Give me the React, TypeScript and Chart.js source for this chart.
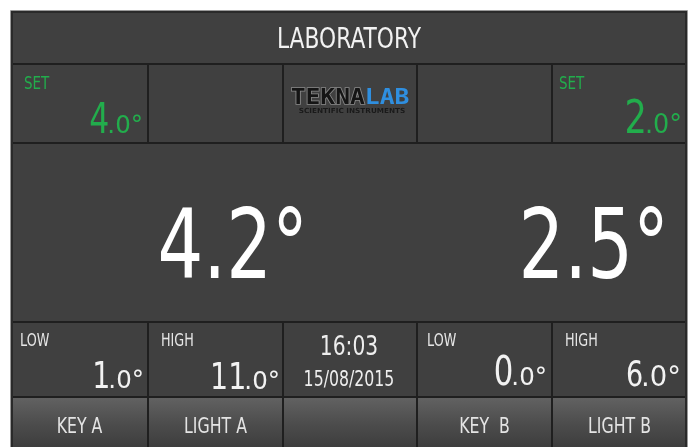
import React, { useEffect, useRef } from "react";
import { Chart, registerables } from "chart.js";

Chart.register(...registerables);

// ---- data ----
const TITLE = "LABORATORY";
const SET_LABEL = "SET";
const SET_POINTS = [4.0, 2.0];
const CURRENT_TEMPS = [4.2, 2.5];
const LOW_LABEL = "LOW";
const HIGH_LABEL = "HIGH";
const LOW_VALUES = [1.0, 0.0];
const HIGH_VALUES = [11.0, 6.0];
const CLOCK_TIME = "16:03";
const CLOCK_DATE = "15/08/2015";
const BUTTON_LABELS = ["KEY A", "LIGHT A", "", "KEY  B", "LIGHT B"];
const LOGO_LEFT = "TEKNA";
const LOGO_RIGHT = "LAB";
const LOGO_SUB = "SCIENTIFIC INSTRUMENTS";

// ---- layout (panel units) ----
const COL_EDGES = [0, 137, 272, 406, 541, 676];
const ROW_EDGES = [0, 53, 132, 311, 386, 441];

const FONT = '"DejaVu Sans", "Noto Sans", sans-serif';
const SX = 0.75;
const SMALL_SX = 0.98;
const GREEN = "#22ad4c";
const BG = "#404040";
const LINE = "#1f1f1f";

function drawText(
  ctx: CanvasRenderingContext2D,
  s: string,
  x: number,
  y: number,
  size: number,
  color: string,
  align: CanvasTextAlign,
  weight = "normal",
  family = FONT,
  sx = SX
) {
  ctx.save();
  ctx.font = `${weight} ${size}px ${family}`;
  ctx.fillStyle = color;
  ctx.textAlign = align;
  ctx.textBaseline = "alphabetic";
  ctx.translate(x, y);
  ctx.scale(sx, 1);
  ctx.fillText(s, 0, 0);
  ctx.restore();
}

function drawValue(
  ctx: CanvasRenderingContext2D,
  v: number,
  right: number,
  y: number,
  big: number,
  small: number,
  color: string
) {
  const s = v.toFixed(1);
  const i = s.indexOf(".");
  const intPart = s.slice(0, i);
  const rest = s.slice(i) + "°";
  ctx.save();
  ctx.font = `normal ${small}px ${FONT}`;
  const w = ctx.measureText(rest).width * SMALL_SX;
  ctx.restore();
  drawText(ctx, rest, right - w, y, small, color, "left", "normal", FONT, SMALL_SX);
  drawText(ctx, intPart, right - w + 2, y, big, color, "right");
}

const panelPlugin = {
  id: "panel",
  afterDraw(chart: any) {
    const ctx: CanvasRenderingContext2D = chart.ctx;
    const xs = chart.scales.x;
    const ys = chart.scales.y;
    const X = (v: number) => xs.getPixelForValue(v);
    const Y = (v: number) => ys.getPixelForValue(v);
    const x0 = X(COL_EDGES[0]);
    const x1 = X(COL_EDGES[COL_EDGES.length - 1]);
    const y0 = Y(ROW_EDGES[0]);
    const y1 = Y(ROW_EDGES[ROW_EDGES.length - 1]);

    ctx.save();
    // background
    ctx.fillStyle = BG;
    ctx.fillRect(x0, y0, x1 - x0, y1 - y0);

    // button gradients
    const by0 = Y(ROW_EDGES[4]);
    const by1 = Y(ROW_EDGES[5]);
    for (let c = 0; c < 5; c++) {
      const g = ctx.createLinearGradient(0, by0, 0, by1);
      g.addColorStop(0, "#626262");
      g.addColorStop(0.5, "#4c4c4c");
      g.addColorStop(1, "#3a3a3a");
      ctx.fillStyle = g;
      ctx.fillRect(X(COL_EDGES[c]), by0, X(COL_EDGES[c + 1]) - X(COL_EDGES[c]), by1 - by0);
    }

    // grid lines
    ctx.strokeStyle = LINE;
    ctx.lineWidth = 2;
    ctx.beginPath();
    for (let r = 1; r < ROW_EDGES.length - 1; r++) {
      ctx.moveTo(x0, Y(ROW_EDGES[r]));
      ctx.lineTo(x1, Y(ROW_EDGES[r]));
    }
    for (let c = 1; c < COL_EDGES.length - 1; c++) {
      const x = X(COL_EDGES[c]);
      ctx.moveTo(x, Y(ROW_EDGES[1]));
      ctx.lineTo(x, Y(ROW_EDGES[2]));
      ctx.moveTo(x, Y(ROW_EDGES[3]));
      ctx.lineTo(x, Y(ROW_EDGES[5]));
    }
    ctx.stroke();

    // outer border
    ctx.strokeStyle = "#2a2a2a";
    ctx.lineWidth = 2;
    ctx.strokeRect(x0 + 1, y0 + 1, x1 - x0 - 2, y1 - y0 + 10);
    ctx.strokeStyle = "#9a9a9a";
    ctx.lineWidth = 1;
    ctx.beginPath();
    ctx.moveTo(x0 - 0.5, y1 + 5);
    ctx.lineTo(x0 - 0.5, y0 - 0.5);
    ctx.lineTo(x1 + 0.5, y0 - 0.5);
    ctx.lineTo(x1 + 0.5, y1 + 5);
    ctx.stroke();
    ctx.restore();

    // title
    drawText(ctx, TITLE, X(338), Y(37), 29, "#f2f2f2", "center");

    // set points
    const setLabelX = [13, 548];
    const setRight = [132, 671];
    const setBig = [42, 47];
    const setSmall = [25, 26];
    for (let k = 0; k < 2; k++) {
      drawText(ctx, SET_LABEL, X(setLabelX[k]), Y(78), 18, GREEN, "left");
      drawValue(ctx, SET_POINTS[k], X(setRight[k]), Y(122), setBig[k], setSmall[k], GREEN);
    }

    // logo
    ctx.save();
    const lx = X(339);
    const ly = Y(93);
    ctx.font = `bold 22px "DejaVu Sans Mono", monospace`;
    const wl = ctx.measureText(LOGO_LEFT).width;
    const wr = ctx.measureText(LOGO_RIGHT).width;
    const lsx = 1.12;
    const total = (wl + wr) * lsx;
    const startX = lx - total / 2;
    ctx.translate(startX, ly);
    ctx.scale(lsx, 1);
    ctx.textAlign = "left";
    ctx.lineWidth = 1.5;
    ctx.strokeStyle = "#8a8a8a";
    ctx.strokeText(LOGO_LEFT, 0, 0);
    ctx.fillStyle = "#151515";
    ctx.fillText(LOGO_LEFT, 0, 0);
    ctx.fillStyle = "#2f8fe0";
    ctx.fillText(LOGO_RIGHT, wl, 0);
    ctx.restore();
    drawText(ctx, LOGO_SUB, X(341), Y(102), 7, "#1a1a1a", "center", "bold", FONT, 1.04);

    // current temps
    const tRight = [297, 658];
    for (let k = 0; k < 2; k++) {
      const s = CURRENT_TEMPS[k].toFixed(1) + "°";
      drawText(ctx, s, X(tRight[k]), Y(267), 96, "#ffffff", "right");
    }

    // low / high
    const labelX = [9, 150, 416, 554];
    const labels = [LOW_LABEL, HIGH_LABEL, LOW_LABEL, HIGH_LABEL];
    const vals = [LOW_VALUES[0], HIGH_VALUES[0], LOW_VALUES[1], HIGH_VALUES[1]];
    const vRight = [133, 269, 536, 670];
    const vBase = [377, 378, 374, 375];
    const vBig = [38, 38, 41, 36];
    const vSmall = [25, 25, 25, 28];
    for (let k = 0; k < 4; k++) {
      drawText(ctx, labels[k], X(labelX[k]), Y(335), 17, "#e6e6e6", "left");
      drawValue(ctx, vals[k], X(vRight[k]), Y(vBase[k]), vBig[k], vSmall[k], "#f2f2f2");
    }

    // clock
    drawText(ctx, CLOCK_TIME, X(338), Y(344), 27, "#eeeeee", "center");
    drawText(ctx, CLOCK_DATE, X(338), Y(375), 21, "#eeeeee", "center");

    // buttons
    for (let c = 0; c < 5; c++) {
      const cx = (COL_EDGES[c] + COL_EDGES[c + 1]) / 2;
      if (BUTTON_LABELS[c]) {
        drawText(ctx, BUTTON_LABELS[c], X(cx), Y(422), 21, "#e4e4e4", "center");
      }
    }
  },
};

export default function App() {
  const ref = useRef<HTMLCanvasElement | null>(null);
  useEffect(() => {
    if (!ref.current) return;
    const chart = new Chart(ref.current, {
      type: "scatter",
      data: { datasets: [{ data: [], pointRadius: 0 }] },
      options: {
        responsive: false,
        animation: false,
        devicePixelRatio: 1,
        layout: { padding: { left: 11, top: 11, right: 9, bottom: 0 } },
        plugins: { legend: { display: false }, tooltip: { enabled: false } },
        scales: {
          x: { type: "linear", min: 0, max: 676, display: false },
          y: { type: "linear", min: 0, max: 436, reverse: true, display: false },
        },
      },
      plugins: [panelPlugin],
    });
    return () => chart.destroy();
  }, []);
  return (
    <div style={{ position: "fixed", left: 0, top: 0, width: 696, height: 447, background: "#ffffff" }}>
      <canvas ref={ref} width={696} height={447} style={{ display: "block" }} />
    </div>
  );
}
